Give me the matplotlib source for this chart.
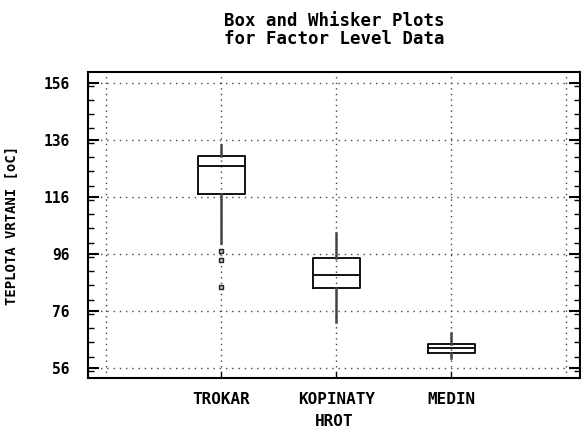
import matplotlib
matplotlib.use("Agg")
import matplotlib.pyplot as plt
from matplotlib.ticker import MultipleLocator, FixedLocator

categories = ["TROKAR", "KOPINATY", "MEDIN"]
whisker_low = [99.8, 72.0, 59.4]
q1 = [117.1, 84.2, 61.3]
median = [126.9, 88.6, 62.9]
q3 = [130.3, 94.6, 64.3]
whisker_high = [134.1, 103.3, 68.2]
outliers = [[97.1, 94.0, 84.4], [], []]
y_ticks = [56, 76, 96, 116, 136, 156]

FONT = "DejaVu Sans Mono"

fig = plt.figure(figsize=(5.81, 4.30), dpi=100)
ax = fig.add_axes([88/581, 52/430, 492/581, 306/430])

stats = []
for i, c in enumerate(categories):
    stats.append(dict(label=c, whislo=whisker_low[i], q1=q1[i], med=median[i],
                      q3=q3[i], whishi=whisker_high[i], fliers=outliers[i]))
positions = [1, 2, 3]
ax.bxp(stats, positions=positions, widths=0.41, showcaps=False,
       boxprops=dict(color="black", linewidth=1.3),
       medianprops=dict(color="black", linewidth=1.3),
       whiskerprops=dict(color="#444444", linewidth=1.8),
       flierprops=dict(marker="s", markersize=3.5, markerfacecolor="#bbbbbb",
                       markeredgecolor="#222222", markeredgewidth=1.0),
       zorder=3)

ax.set_xlim(-0.157, 4.12)
ax.set_ylim(52.5, 159.8)

ax.yaxis.set_major_locator(FixedLocator(y_ticks))
ax.yaxis.set_minor_locator(MultipleLocator(5))
ax.set_xticks(positions)
ax.set_xticklabels(categories, fontfamily=FONT, fontweight="bold", fontsize=11.5)
ax.set_yticklabels([str(v) for v in y_ticks], fontfamily=FONT, fontweight="bold", fontsize=10.5)

# grid
for v in y_ticks:
    ax.axhline(v, color="#444444", linestyle=(0, (1, 3.5)), linewidth=1.0, zorder=1)
for x in [0, 1, 2, 3, 4]:
    ax.axvline(x, color="#444444", linestyle=(0, (1, 3)), linewidth=1.0, zorder=1)

ax.tick_params(axis="y", which="major", direction="in", length=8, width=1.5,
               left=True, right=True, pad=13)
ax.tick_params(axis="y", which="minor", direction="in", length=4, width=1.0,
               left=True, right=True)
ax.tick_params(axis="x", which="major", direction="in", length=4, width=1.0,
               bottom=True, top=False, pad=10)
ax.tick_params(axis="x", which="minor", bottom=False, top=False)

for s in ax.spines.values():
    s.set_linewidth(1.5)
    s.set_color("black")

ax.set_ylabel("TEPLOTA VRTANI [oC]", fontfamily=FONT, fontweight="bold", fontsize=10)
ax.yaxis.set_label_coords((19 - 88) / 492, 0.5)
ax.set_xlabel("HROT", fontfamily=FONT, fontweight="bold", fontsize=11.5)
ax.xaxis.set_label_coords(0.5, (430 - 414 - 52) / 306)

fig.text(334/581, 1 - 30/430, "Box and Whisker Plots\nfor Factor Level Data",
         ha="center", va="center", fontfamily=FONT, fontweight="bold",
         fontsize=12.5, linespacing=1.0)

fig.savefig("out.png", dpi=100)
